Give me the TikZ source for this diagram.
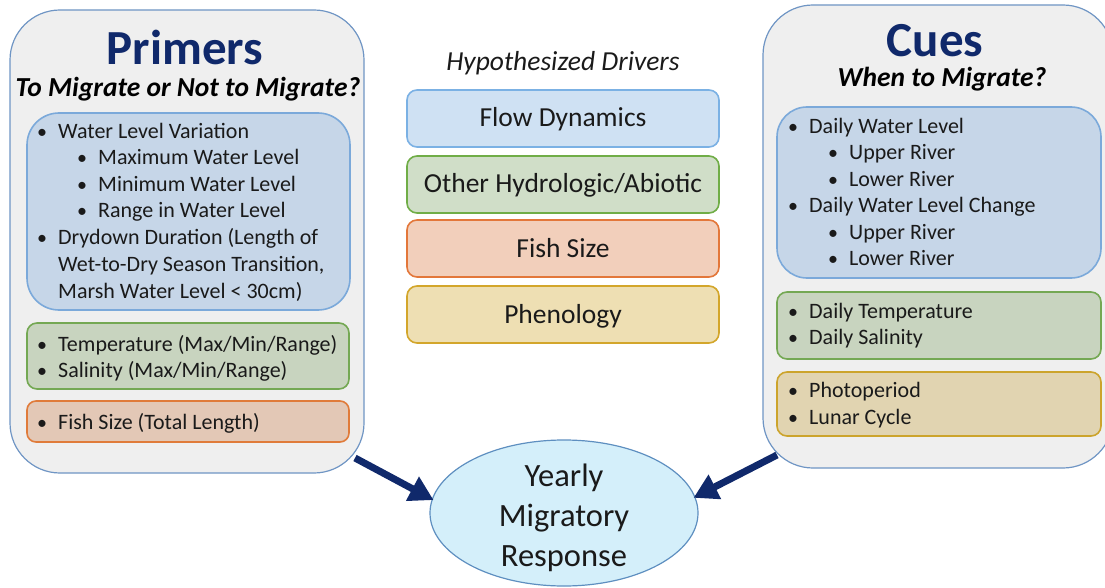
\documentclass[tikz,border=0pt]{standalone}
\usepackage{fontspec}
\setmainfont{Carlito}
\usetikzlibrary{arrows.meta,shapes.geometric}

\definecolor{panelfill}{HTML}{EFEFEF}
\definecolor{paneldraw}{HTML}{6F95C4}
\definecolor{navy}{HTML}{10296B}
\definecolor{ink}{HTML}{1A1A1A}
\definecolor{bluefill}{HTML}{C6D6E8}
\definecolor{bluedraw}{HTML}{7BA9DA}
\definecolor{greenfill}{HTML}{C8D4BF}
\definecolor{greendraw}{HTML}{74A853}
\definecolor{orangefill}{HTML}{E3C8B6}
\definecolor{orangedraw}{HTML}{E07B3A}
\definecolor{yellowfill}{HTML}{E1D4B1}
\definecolor{yellowdraw}{HTML}{CCA42C}
\definecolor{flowfill}{HTML}{CFE1F3}
\definecolor{flowdraw}{HTML}{7BB1E4}
\definecolor{hydrofill}{HTML}{D0DEC8}
\definecolor{hydrodraw}{HTML}{70AD47}
\definecolor{sizefill}{HTML}{F2CFBB}
\definecolor{sizedraw}{HTML}{E3773A}
\definecolor{phenofill}{HTML}{EEDFB3}
\definecolor{phenodraw}{HTML}{D3A62B}
\definecolor{respfill}{HTML}{D4EFFA}
\definecolor{respdraw}{HTML}{5E8FC0}

\tikzset{
  panel/.style={draw=paneldraw, fill=panelfill, line width=1.2pt, rounded corners=50pt, inner sep=0pt},
  group/.style={line width=1.6pt, inner sep=0pt},
  driver/.style={line width=1.6pt, rounded corners=10pt, inner sep=0pt, minimum width=312pt, minimum height=57pt,
    text=ink, font=\fontsize{27.5}{32}\selectfont, text height=21.5pt, text depth=4.5pt},
  item/.style={anchor=base west, inner sep=0pt, text=ink, font=\fontsize{22}{26}\selectfont},
  bullet/.style={anchor=base west, inner sep=0pt, text=ink, font=\fontsize{20}{24}\selectfont},
  title/.style={anchor=base, inner sep=0pt, text=navy, font=\bfseries\fontsize{49}{56}\selectfont},
  question/.style={anchor=base, inner sep=0pt, text=black, font=\bfseries\itshape\fontsize{27.5}{32}\selectfont},
  resptext/.style={anchor=base, inner sep=0pt, text=ink, font=\fontsize{32.5}{38}\selectfont},
  bigarrow/.style={draw=navy, line width=7pt, -{Triangle[length=24pt,width=26pt]}, shorten >=-2pt}
}

\begin{document}
\begin{tikzpicture}[x=1pt,y=-1pt]
\useasboundingbox (0,0) rectangle (1105,588);

% ---------- Primers panel ----------
\node[panel, minimum width=354pt, minimum height=463pt] (primers) at (187,241.5) {};
\node[title] (primtitle) at (185,65) {Primers};
\node[question] (primq) at (188,97) {To Migrate or Not to Migrate?};

\node[group, draw=bluedraw, fill=bluefill, rounded corners=32pt, minimum width=323pt, minimum height=197pt] (pflow) at (188.5,211.5) {};
\node[group, draw=greendraw, fill=greenfill, rounded corners=10pt, minimum width=322pt, minimum height=66pt] (phydro) at (188,356) {};
\node[group, draw=orangedraw, fill=orangefill, rounded corners=9pt, minimum width=322pt, minimum height=41pt] (psize) at (188,421.5) {};

\node[bullet] (pb1) at (37,138.5) {•};   \node[item] (pt1) at (58,138.5) {Water Level Variation};
\node[bullet] (pb2) at (77,165) {•};     \node[item] (pt2) at (98,165) {Maximum Water Level};
\node[bullet] (pb3) at (77,191.5) {•};   \node[item] (pt3) at (98,191.5) {Minimum Water Level};
\node[bullet] (pb4) at (77,218) {•};     \node[item] (pt4) at (98,218) {Range in Water Level};
\node[bullet] (pb5) at (37,244.5) {•};   \node[item] (pt5) at (58,244.5) {Drydown Duration (Length of};
\node[item] (pt6) at (58,271.5) {Wet-to-Dry Season Transition,};
\node[item] (pt7) at (58,298) {Marsh Water Level < 30cm)};
\node[bullet] (pb8) at (37,351.5) {•};   \node[item] (pt8) at (58,351.5) {Temperature (Max/Min/Range)};
\node[bullet] (pb9) at (37,377.5) {•};   \node[item] (pt9) at (58,377.5) {Salinity (Max/Min/Range)};
\node[bullet] (pb10) at (37,429.5) {•};  \node[item] (pt10) at (58,429.5) {Fish Size (Total Length)};

% ---------- Hypothesized drivers ----------
\node[anchor=base, inner sep=0pt, text=ink, font=\itshape\fontsize{27.5}{32}\selectfont] (drivers) at (563,71) {Hypothesized Drivers};
\node[driver, draw=flowdraw, fill=flowfill] (dflow) at (563,118.5) {Flow Dynamics};
\node[driver, draw=hydrodraw, fill=hydrofill] (dhydro) at (563,184.5) {Other Hydrologic/Abiotic};
\node[driver, draw=sizedraw, fill=sizefill] (dsize) at (563,248.5) {Fish Size};
\node[driver, draw=phenodraw, fill=phenofill] (dpheno) at (563,314.5) {Phenology};

% ---------- Cues panel ----------
\node[panel, minimum width=350pt, minimum height=463pt] (cues) at (938,236.5) {};
\node[title] (cuetitle) at (935,57) {Cues};
\node[question] (cueq) at (942,87) {When to Migrate?};

\node[group, draw=bluedraw, fill=bluefill, rounded corners=30pt, minimum width=324pt, minimum height=171pt] (cflow) at (939,192.5) {};
\node[group, draw=greendraw, fill=greenfill, rounded corners=10pt, minimum width=324pt, minimum height=67pt] (chydro) at (939,325.5) {};
\node[group, draw=yellowdraw, fill=yellowfill, rounded corners=10pt, minimum width=324pt, minimum height=64pt] (cpheno) at (939,404) {};

\node[bullet] (cb1) at (788,133.5) {•};  \node[item] (ct1) at (809,133.5) {Daily Water Level};
\node[bullet] (cb2) at (828,159.5) {•};  \node[item] (ct2) at (849,159.5) {Upper River};
\node[bullet] (cb3) at (828,186) {•};    \node[item] (ct3) at (849,186) {Lower River};
\node[bullet] (cb4) at (788,212.5) {•};  \node[item] (ct4) at (809,212.5) {Daily Water Level Change};
\node[bullet] (cb5) at (828,239) {•};    \node[item] (ct5) at (849,239) {Upper River};
\node[bullet] (cb6) at (828,265.5) {•};  \node[item] (ct6) at (849,265.5) {Lower River};
\node[bullet] (cb7) at (788,318) {•};    \node[item] (ct7) at (809,318) {Daily Temperature};
\node[bullet] (cb8) at (788,344.5) {•};  \node[item] (ct8) at (809,344.5) {Daily Salinity};
\node[bullet] (cb9) at (788,397.5) {•};  \node[item] (ct9) at (809,397.5) {Photoperiod};
\node[bullet] (cb10) at (788,424) {•};   \node[item] (ct10) at (809,424) {Lunar Cycle};

% ---------- Response ----------
\node[ellipse, draw=respdraw, fill=respfill, line width=1.2pt, minimum width=268pt, minimum height=146pt, inner sep=0pt] (resp) at (564,513) {};
\node[resptext] (r1) at (564,486) {Yearly};
\node[resptext] (r2) at (564,526) {Migratory};
\node[resptext] (r3) at (564,566) {Response};

% ---------- Arrows into the response ----------
\coordinate (pout) at (355,458);
\coordinate (cout) at (777,455);
\draw[bigarrow] (pout) -- (resp.174);
\draw[bigarrow] (cout) -- (resp.7);
\end{tikzpicture}
\end{document}
